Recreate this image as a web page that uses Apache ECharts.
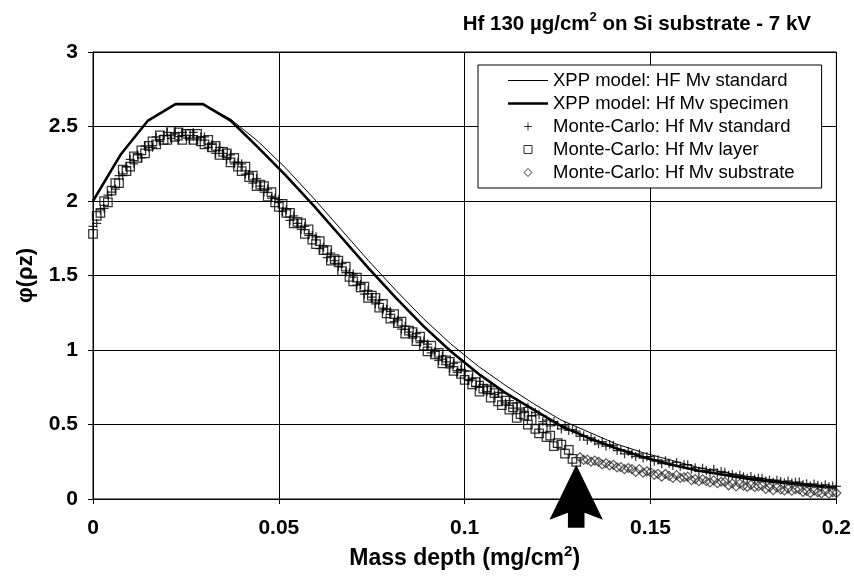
<!DOCTYPE html>
<html>
<head>
<meta charset="utf-8">
<script src="https://cdn.jsdelivr.net/npm/echarts@6/dist/echarts.min.js"></script>
<style>html,body{margin:0;padding:0;background:#fff;}#c{width:854px;height:577px;}</style>
</head>
<body>
<div id="c"></div>
<script>
// ---- data ----
const xTicks = [0, 0.05, 0.1, 0.15, 0.2];
const yTicks = [0, 0.5, 1, 1.5, 2, 2.5, 3];

// XPP model curves
const xppDepth = [0, 0.0074, 0.0148, 0.0222, 0.0296, 0.0370, 0.0444, 0.0519, 0.0593, 0.0667,
  0.0741, 0.0815, 0.0889, 0.0963, 0.1037, 0.1111, 0.1185, 0.1259, 0.1333, 0.1407,
  0.1481, 0.1556, 0.1630, 0.1704, 0.1778, 0.1852, 0.1926, 0.2000];
const xppStandard = [2.00, 2.31, 2.54, 2.65, 2.65, 2.55, 2.40, 2.22, 2.02, 1.81,
  1.60, 1.40, 1.21, 1.04, 0.89, 0.76, 0.64, 0.53, 0.45, 0.37,
  0.31, 0.26, 0.21, 0.175, 0.145, 0.12, 0.10, 0.08];
const xppSpecimen = [2.00, 2.31, 2.54, 2.65, 2.65, 2.54, 2.36, 2.17, 1.97, 1.76,
  1.55, 1.35, 1.16, 0.99, 0.84, 0.71, 0.60, 0.49, 0.41, 0.34,
  0.28, 0.23, 0.19, 0.16, 0.13, 0.11, 0.09, 0.075];

// Monte-Carlo depths (mg/cm2)
const mcDepth = [
  0.000, 0.001, 0.002, 0.003, 0.004, 0.005, 0.006, 0.007, 0.008, 0.009,
  0.010, 0.011, 0.012, 0.013, 0.014, 0.015, 0.016, 0.017, 0.018, 0.019,
  0.020, 0.021, 0.022, 0.023, 0.024, 0.025, 0.026, 0.027, 0.028, 0.029,
  0.030, 0.031, 0.032, 0.033, 0.034, 0.035, 0.036, 0.037, 0.038, 0.039,
  0.040, 0.041, 0.042, 0.043, 0.044, 0.045, 0.046, 0.047, 0.048, 0.049,
  0.050, 0.051, 0.052, 0.053, 0.054, 0.055, 0.056, 0.057, 0.058, 0.059,
  0.060, 0.061, 0.062, 0.063, 0.064, 0.065, 0.066, 0.067, 0.068, 0.069,
  0.070, 0.071, 0.072, 0.073, 0.074, 0.075, 0.076, 0.077, 0.078, 0.079,
  0.080, 0.081, 0.082, 0.083, 0.084, 0.085, 0.086, 0.087, 0.088, 0.089,
  0.090, 0.091, 0.092, 0.093, 0.094, 0.095, 0.096, 0.097, 0.098, 0.099,
  0.100, 0.101, 0.102, 0.103, 0.104, 0.105, 0.106, 0.107, 0.108, 0.109,
  0.110, 0.111, 0.112, 0.113, 0.114, 0.115, 0.116, 0.117, 0.118, 0.119,
  0.120, 0.121, 0.122, 0.123, 0.124, 0.125, 0.126, 0.127, 0.128, 0.129,
  0.130, 0.131, 0.132, 0.133, 0.134, 0.135, 0.136, 0.137, 0.138, 0.139,
  0.140, 0.141, 0.142, 0.143, 0.144, 0.145, 0.146, 0.147, 0.148, 0.149,
  0.150, 0.151, 0.152, 0.153, 0.154, 0.155, 0.156, 0.157, 0.158, 0.159,
  0.160, 0.161, 0.162, 0.163, 0.164, 0.165, 0.166, 0.167, 0.168, 0.169,
  0.170, 0.171, 0.172, 0.173, 0.174, 0.175, 0.176, 0.177, 0.178, 0.179,
  0.180, 0.181, 0.182, 0.183, 0.184, 0.185, 0.186, 0.187, 0.188, 0.189,
  0.190, 0.191, 0.192, 0.193, 0.194, 0.195, 0.196, 0.197, 0.198, 0.199,
  0.200];

// Monte-Carlo: Hf Mv standard (0 - 0.2)
const mcStandard = [
  1.83, 1.85, 1.94, 1.95, 2.04, 2.06, 2.08, 2.17, 2.17, 2.23,
  2.28, 2.25, 2.31, 2.29, 2.37, 2.36, 2.36, 2.43, 2.40, 2.44,
  2.46, 2.42, 2.45, 2.41, 2.46, 2.44, 2.41, 2.46, 2.41, 2.43,
  2.43, 2.36, 2.38, 2.32, 2.36, 2.32, 2.28, 2.31, 2.25, 2.26,
  2.25, 2.18, 2.18, 2.12, 2.15, 2.10, 2.06, 2.08, 2.02, 2.02,
  2.01, 1.93, 1.94, 1.87, 1.90, 1.85, 1.81, 1.83, 1.77, 1.77,
  1.76, 1.68, 1.69, 1.62, 1.65, 1.60, 1.56, 1.58, 1.52, 1.52,
  1.51, 1.435, 1.44, 1.375, 1.40, 1.355, 1.31, 1.335, 1.27, 1.275,
  1.26, 1.19, 1.20, 1.14, 1.16, 1.12, 1.08, 1.11, 1.05, 1.06,
  1.04, 0.98, 0.99, 0.93, 0.96, 0.92, 0.88, 0.91, 0.85, 0.87,
  0.86, 0.795, 0.81, 0.755, 0.79, 0.755, 0.72, 0.755, 0.70, 0.715,
  0.71, 0.645, 0.66, 0.61, 0.645, 0.61, 0.58, 0.615, 0.56, 0.58,
  0.565, 0.52, 0.53, 0.49, 0.52, 0.495, 0.47, 0.49, 0.46, 0.465,
  0.455, 0.42, 0.425, 0.395, 0.41, 0.39, 0.37, 0.385, 0.355, 0.365,
  0.36, 0.325, 0.33, 0.303, 0.32, 0.30, 0.285, 0.303, 0.275, 0.285,
  0.285, 0.254, 0.263, 0.237, 0.256, 0.24, 0.225, 0.245, 0.22, 0.23,
  0.23, 0.20, 0.21, 0.185, 0.206, 0.192, 0.178, 0.199, 0.175, 0.185,
  0.179, 0.16, 0.165, 0.149, 0.16, 0.15, 0.14, 0.151, 0.135, 0.14,
  0.139, 0.121, 0.128, 0.113, 0.126, 0.117, 0.109, 0.121, 0.107, 0.113,
  0.114, 0.096, 0.103, 0.088, 0.101, 0.092, 0.084, 0.096, 0.082, 0.088,
  0.085];

// Monte-Carlo: Hf Mv layer (0 - 0.13)
const mcLayer = [
  1.78, 1.90, 1.92, 2.00, 1.99, 2.07, 2.12, 2.12, 2.21, 2.20,
  2.23, 2.30, 2.29, 2.34, 2.32, 2.37, 2.40, 2.38, 2.44, 2.41,
  2.41, 2.47, 2.43, 2.46, 2.41, 2.45, 2.45, 2.41, 2.45, 2.40,
  2.38, 2.41, 2.36, 2.37, 2.31, 2.33, 2.32, 2.26, 2.29, 2.23,
  2.20, 2.23, 2.16, 2.17, 2.10, 2.11, 2.10, 2.03, 2.06, 1.99,
  1.96, 1.98, 1.92, 1.92, 1.85, 1.86, 1.85, 1.78, 1.81, 1.74,
  1.71, 1.73, 1.67, 1.67, 1.60, 1.61, 1.60, 1.53, 1.56, 1.49,
  1.46, 1.485, 1.42, 1.425, 1.35, 1.365, 1.35, 1.285, 1.31, 1.245,
  1.21, 1.24, 1.18, 1.19, 1.11, 1.13, 1.12, 1.06, 1.09, 1.03,
  0.99, 1.03, 0.97, 0.98, 0.91, 0.93, 0.92, 0.86, 0.89, 0.84,
  0.80, 0.83, 0.77, 0.785, 0.72, 0.74, 0.735, 0.68, 0.71, 0.655,
  0.63, 0.66, 0.60, 0.615, 0.545, 0.57, 0.56, 0.50, 0.53, 0.47,
  0.44, 0.475, 0.415, 0.425, 0.355, 0.375, 0.365, 0.305, 0.33, 0.27,
  0.25];

// Monte-Carlo: Hf Mv substrate (0.131 - 0.2)
const mcSubstrate = [
  0.28, 0.262, 0.264, 0.25, 0.258, 0.25, 0.232, 0.24, 0.226,
  0.23, 0.212, 0.214, 0.20, 0.208, 0.20, 0.182, 0.20, 0.176, 0.186,
  0.18, 0.162, 0.169, 0.15, 0.168, 0.155, 0.142, 0.16, 0.141, 0.146,
  0.15, 0.127, 0.134, 0.12, 0.133, 0.12, 0.112, 0.125, 0.106, 0.116,
  0.115, 0.092, 0.104, 0.085, 0.103, 0.09, 0.082, 0.095, 0.081, 0.086,
  0.09, 0.067, 0.079, 0.06, 0.078, 0.065, 0.057, 0.07, 0.056, 0.066,
  0.065, 0.047, 0.054, 0.04, 0.058, 0.045, 0.037, 0.055, 0.036, 0.046, 0.04];

// layer thickness marker (130 ug/cm2 = 0.13 mg/cm2) and the value where the arrow tip sits
const layerThickness = 0.13;
const arrowTipValue = 0.23;

const names = ['XPP model: HF Mv standard', 'XPP model: Hf Mv specimen',
  'Monte-Carlo: Hf Mv standard', 'Monte-Carlo: Hf Mv layer', 'Monte-Carlo: Hf Mv substrate'];

// ---- build ----
const zip = (xs, ys) => ys.map((y, i) => [xs[i], y]);
const layerDepth = mcDepth.slice(0, mcLayer.length);
const substrateDepth = mcDepth.slice(mcDepth.length - mcSubstrate.length);

const FONT = '"Liberation Sans", Arial, Helvetica, sans-serif';
const plusPath = 'path://M4,0V8M0,4H8';
const sqPath = 'path://M0,0H8V8H0Z';
const diaPath = 'path://M4,0L8,4L4,8L0,4Z';
const thinLineIcon = 'path://M0,0H40V1H0Z';
const thickLineIcon = 'path://M0,0H40V2.6H0Z';
const arrowPath = 'path://M29,0L58,55L38,48L38,63L20,63L20,48L0,55Z';
const hollow = { color: 'rgba(0,0,0,0)', borderColor: '#000', borderWidth: 1 };
const hollowBold = { color: 'rgba(0,0,0,0)', borderColor: '#000', borderWidth: 1.25 };
const hollowGrey = { color: 'rgba(0,0,0,0)', borderColor: '#333', borderWidth: 1.2 };
const solid = { color: '#000', borderWidth: 0 };

const chart = echarts.init(document.getElementById('c'), null, { renderer: 'canvas' });
chart.setOption({
  animation: false,
  backgroundColor: '#fff',
  textStyle: { fontFamily: FONT, color: '#000' },
  title: {
    text: '{b|Hf 130 \u00b5g/cm}{s|2}{b| on Si substrate - 7 kV}',
    right: 38, top: 6,
    textStyle: {
      rich: {
        b: { fontFamily: FONT, fontWeight: 'bold', fontSize: 20.5, color: '#000', lineHeight: 24, verticalAlign: 'bottom' },
        s: { fontFamily: FONT, fontWeight: 'bold', fontSize: 13, color: '#000', lineHeight: 24, verticalAlign: 'top' }
      }
    }
  },
  legend: {
    orient: 'vertical', left: 478, top: 65,
    padding: [6, 27, 6, 30],
    itemWidth: 40, itemHeight: 8, itemGap: 4,
    backgroundColor: '#fff', borderColor: '#000', borderWidth: 1, borderRadius: 0,
    textStyle: { fontFamily: FONT, fontSize: 18.5, color: '#000', lineHeight: 18 },
    data: [
      { name: names[0], icon: thinLineIcon, itemStyle: solid },
      { name: names[1], icon: thickLineIcon, itemStyle: solid },
      { name: names[2], icon: plusPath, itemStyle: hollow },
      { name: names[3], icon: sqPath, itemStyle: hollow },
      { name: names[4], icon: diaPath, itemStyle: hollow }
    ]
  },
  grid: { left: 93, right: 17, top: 52, bottom: 78, show: true, borderColor: '#000', borderWidth: 1, backgroundColor: 'rgba(0,0,0,0)' },
  xAxis: {
    type: 'value', min: xTicks[0], max: xTicks[xTicks.length - 1], interval: xTicks[1] - xTicks[0],
    axisLine: { lineStyle: { color: '#000', width: 1 } },
    axisTick: { show: true, inside: false, length: 5, lineStyle: { color: '#000' } },
    splitLine: { show: true, lineStyle: { color: '#000', width: 1 } },
    axisLabel: { fontFamily: FONT, fontWeight: 'bold', fontSize: 21, color: '#000', margin: 19 },
    name: '{b|Mass depth (mg/cm}{s|2}{b|)}',
    nameLocation: 'middle', nameGap: 45,
    nameTextStyle: {
      rich: {
        b: { fontFamily: FONT, fontWeight: 'bold', fontSize: 23, color: '#000', lineHeight: 26, verticalAlign: 'bottom' },
        s: { fontFamily: FONT, fontWeight: 'bold', fontSize: 15, color: '#000', lineHeight: 26, verticalAlign: 'top' }
      }
    }
  },
  yAxis: {
    type: 'value', min: yTicks[0], max: yTicks[yTicks.length - 1], interval: yTicks[1] - yTicks[0],
    axisLine: { show: true, lineStyle: { color: '#000', width: 1 } },
    axisTick: { show: true, inside: false, length: 5, lineStyle: { color: '#000' } },
    splitLine: { show: true, lineStyle: { color: '#000', width: 1 } },
    axisLabel: { fontFamily: FONT, fontWeight: 'bold', fontSize: 21, color: '#000', margin: 15 },
    name: '\u03c6(\u03c1z)',
    nameLocation: 'middle', nameGap: 56, nameRotate: 90,
    nameTextStyle: { fontFamily: FONT, fontWeight: 'bold', fontSize: 22, color: '#000' }
  },
  series: [
    {
      name: names[0], type: 'line', data: zip(xppDepth, xppStandard),
      symbol: 'none', showSymbol: false, lineStyle: { color: '#000', width: 1 }, itemStyle: { color: '#000' }, z: 3
    },
    {
      name: names[1], type: 'line', data: zip(xppDepth, xppSpecimen),
      symbol: 'none', showSymbol: false, lineStyle: { color: '#000', width: 2.6 }, itemStyle: { color: '#000' }, z: 3,
      markPoint: {
        symbol: arrowPath, symbolSize: [58, 63], symbolOffset: [0, '50%'], symbolKeepAspect: true,
        itemStyle: { color: '#000' }, label: { show: false }, silent: true,
        data: [{ coord: [layerThickness, arrowTipValue] }]
      }
    },
    {
      name: names[2], type: 'scatter', data: zip(mcDepth, mcStandard),
      symbol: plusPath, symbolSize: 9, itemStyle: hollowBold, z: 4
    },
    {
      name: names[3], type: 'scatter', data: zip(layerDepth, mcLayer),
      symbol: sqPath, symbolSize: 8.5, itemStyle: hollowBold, z: 4
    },
    {
      name: names[4], type: 'scatter', data: zip(substrateDepth, mcSubstrate),
      symbol: diaPath, symbolSize: 9, itemStyle: hollowGrey, z: 4
    }
  ]
});
</script>
</body>
</html>
